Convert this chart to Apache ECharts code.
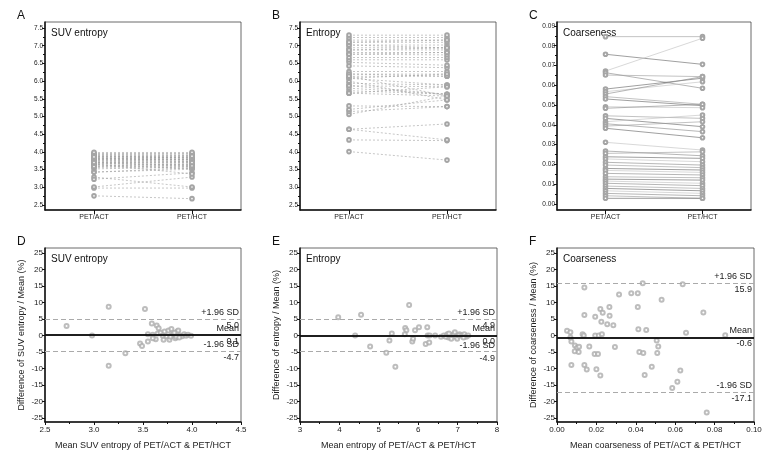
<!DOCTYPE html>
<html><head><meta charset="utf-8">
<script src="https://cdn.jsdelivr.net/npm/echarts@6/dist/echarts.min.js"></script>
<style>html,body{margin:0;padding:0;background:#fff}#c{width:768px;height:459px}</style>
</head><body><div id="c"></div>
<script>
// ---------- data ----------
const cats = ['PET/ACT', 'PET/HCT'];
const topTicks = [2.5, 3.0, 3.5, 4.0, 4.5, 5.0, 5.5, 6.0, 6.5, 7.0, 7.5];
const coaTicks = [0, 0.01, 0.02, 0.03, 0.04, 0.05, 0.06, 0.07, 0.08, 0.09];
const baTicks = [-25, -20, -15, -10, -5, 0, 5, 10, 15, 20, 25];

const suvACT = [2.76,2.98,3.29,3.01,3.23,3.66,3.43,3.43,3.52,3.65,3.56,3.60,3.61,3.69,3.70,3.66,3.69,3.69,3.74,3.74,3.79,3.75,3.83,3.79,3.82,3.81,3.87,3.89,3.88,3.90,3.93,3.94,3.96,3.99,3.77,3.84,3.83,3.59,3.70,3.86];
const suvHCT = [2.68,2.98,3.01,3.29,3.41,3.38,3.51,3.55,3.58,3.53,3.54,3.60,3.65,3.59,3.62,3.64,3.67,3.73,3.70,3.74,3.73,3.79,3.75,3.79,3.80,3.85,3.83,3.83,3.88,3.90,3.91,3.94,3.96,3.99,3.79,3.80,3.85,3.61,3.70,3.88];

const entACT = [4.01,4.34,4.64,4.64,5.06,5.14,5.20,5.30,5.66,5.73,5.80,5.87,5.94,6.00,6.08,6.14,6.20,6.27,6.43,6.53,6.60,6.67,6.76,6.81,6.88,6.94,7.02,7.10,7.16,7.23,7.30,6.76,6.88,7.02,7.10,6.20,6.08,5.66,5.87,6.14];
const entHCT = [3.77,4.32,4.79,4.34,5.58,5.28,5.47,5.28,5.58,5.63,5.63,5.84,5.89,5.47,5.89,6.14,6.20,6.27,6.38,6.45,6.60,6.67,6.74,6.81,6.88,6.94,7.02,7.10,7.16,7.23,7.30,6.81,6.94,6.94,7.16,6.14,6.20,5.84,5.63,5.58];

const coaACT = [0.0846,0.0757,0.0672,0.0664,0.0652,0.0581,0.0568,0.0556,0.0543,0.0531,0.0492,0.0484,0.0446,0.0433,0.0416,0.0406,0.0394,0.0383,0.0312,0.0268,0.0256,0.0239,0.0228,0.0211,0.0197,0.0180,0.0170,0.0155,0.0138,0.0126,0.0116,0.0105,0.0091,0.0079,0.0067,0.0054,0.0042,0.0029];
const coaHCT = [0.0846,0.0706,0.0838,0.0585,0.0644,0.0636,0.0618,0.0644,0.0504,0.0497,0.0487,0.0504,0.0433,0.0391,0.0450,0.0366,0.0416,0.0335,0.0273,0.0244,0.0264,0.0231,0.0214,0.0197,0.0184,0.0172,0.0160,0.0147,0.0133,0.0121,0.0105,0.0093,0.0079,0.0067,0.0054,0.0042,0.0029,0.0029];

const suvMean = [2.72,2.98,3.15,3.15,3.32,3.52,3.47,3.49,3.55,3.59,3.55,3.60,3.63,3.64,3.66,3.65,3.68,3.71,3.72,3.74,3.76,3.77,3.79,3.79,3.81,3.83,3.85,3.86,3.88,3.90,3.92,3.94,3.96,3.99,3.78,3.82,3.84,3.60,3.70,3.87];
const suvDiff = [2.9,0,8.7,-9.2,-5.4,8.0,-2.4,-3.2,-1.8,3.6,0.4,0.2,-1.1,3.0,2.2,0.6,0.8,-1.3,1.2,-0.2,1.5,-1.3,2.0,0,0.4,-0.8,1.2,1.5,0,-0.2,0.4,-0.1,0.2,-0.1,-0.4,0.8,-0.4,-0.8,0,-0.6];

const entMean = [3.97,4.55,4.40,4.78,5.19,5.33,5.27,5.42,5.77,5.67,5.70,5.66,5.85,5.87,5.92,6.02,6.23,6.24,6.19,6.28,6.29,6.43,6.58,6.65,6.74,6.77,6.80,6.84,6.88,6.91,6.93,6.96,6.99,7.05,7.10,7.17,7.22,7.27,6.78,7.03,7.15,6.70];
const entDiff = [5.5,6.3,0,-3.3,-5.2,0.6,-1.5,-9.5,9.2,2.3,1.6,0.4,-1.8,-1.0,1.6,2.5,2.5,0,-2.6,-2.1,0,0,-0.4,0,0.4,-0.6,0,-1.0,0.2,0.4,1.0,-0.4,-1.0,0.4,0,0.4,-0.4,0,0.6,0,-0.6,-0.4];

const coaMean = [0.0051,0.0068,0.0068,0.0073,0.0091,0.0102,0.0112,0.0090,0.0110,0.0073,0.0139,0.0139,0.0130,0.0136,0.0139,0.0151,0.0164,0.0194,0.0194,0.0191,0.0208,0.0200,0.0220,0.0232,0.0225,0.0212,0.0228,0.0220,0.0266,0.0267,0.0255,0.0286,0.0294,0.0315,0.0377,0.0410,0.0410,0.0413,0.0453,0.0418,0.0438,0.0435,0.0445,0.0481,0.0506,0.0514,0.0509,0.0531,0.0585,0.0611,0.0626,0.0638,0.0655,0.0743,0.0760,0.0854];
const coaDiff = [1.4,1.0,-0.6,-1.8,-3.0,-3.7,-3.4,-4.8,-5.0,-8.9,14.5,6.2,0.4,0,-8.9,-10.3,-3.3,5.7,0,-5.6,-5.6,-10.2,8.0,6.9,4.2,0,0.4,-12.1,8.6,6.0,3.4,3.1,-3.5,12.4,12.8,12.8,8.6,1.9,1.7,-5.0,-5.3,15.8,-12.0,-9.5,-1.5,-3.3,-5.3,10.8,-15.9,-14.0,-10.6,15.5,0.8,7.0,-23.3,0.1];

// limits: [+1.96 SD, mean, -1.96 SD]
const suvLimits = [5.0, 0.1, -4.7];
const entLimits = [4.9, 0.0, -4.9];
const coaLimits = [15.9, -0.6, -17.1];

const panelLetters = ['A', 'B', 'C', 'D', 'E', 'F'];
const panelTitles = ['SUV entropy', 'Entropy', 'Coarseness', 'SUV entropy', 'Entropy', 'Coarseness'];
const xTitles = ['Mean SUV entropy of PET/ACT & PET/HCT', 'Mean entropy of PET/ACT & PET/HCT', 'Mean coarseness of PET/ACT & PET/HCT'];
const yTitles = ['Difference of SUV entropy / Mean (%)', 'Difference of entropy / Mean (%)', 'Difference of coarseness / Mean (%)'];

// ---------- chart ----------
const NARROW = '"Liberation Sans Narrow", "Arial Narrow", "Liberation Sans", Arial, sans-serif';
const ARIAL = '"Liberation Sans", Arial, sans-serif';
const chart = echarts.init(document.getElementById('c'));

const gridBoxes = [
  {left: 45, top: 22, width: 196, height: 188},
  {left: 300, top: 22, width: 196, height: 188},
  {left: 557, top: 22, width: 194, height: 188},
  {left: 45, top: 248, width: 196, height: 174},
  {left: 300, top: 248, width: 197, height: 174},
  {left: 557, top: 248, width: 197, height: 174}
];
const grid = gridBoxes.map(g => Object.assign({show: true, borderColor: '#444', borderWidth: 0.8, containLabel: false, outerBoundsMode: 'none'}, g));

const axisLine = {show: true, onZero: false, lineStyle: {color: '#111', width: 1.5}};
const tickStyle = {color: '#111', width: 1};

function midpoints(arr) {
  const out = [];
  for (let i = 0; i < arr.length - 1; i++) out.push(+((arr[i] + arr[i + 1]) / 2).toFixed(4));
  return out;
}

const xAxis = [];
for (let p = 0; p < 3; p++) {
  xAxis.push({
    gridIndex: p, type: 'category', data: cats, boundaryGap: true,
    axisLine: axisLine,
    axisTick: {show: true, alignWithLabel: true, length: 4, lineStyle: tickStyle},
    axisLabel: {fontSize: 7, fontFamily: ARIAL, color: '#222', margin: 4},
    splitLine: {show: false}
  });
}
const baX = [
  {min: 2.5, max: 4.5, interval: 0.5, fmt: v => v.toFixed(1)},
  {min: 3, max: 8, interval: 1, fmt: v => String(Math.round(v))},
  {min: 0, max: 0.1, interval: 0.02, fmt: v => v.toFixed(2)}
];
baX.forEach((b, k) => {
  xAxis.push({
    gridIndex: 3 + k, type: 'value', min: b.min, max: b.max, interval: b.interval,
    axisLine: axisLine,
    axisTick: {show: true, length: 3, lineStyle: tickStyle},
    minorTick: {show: true, splitNumber: 2, length: 2, lineStyle: tickStyle},
    axisLabel: {fontSize: 8, fontFamily: ARIAL, color: '#222', margin: 4, formatter: b.fmt},
    splitLine: {show: false}, minorSplitLine: {show: false},
    name: xTitles[k], nameLocation: 'middle', nameGap: 19,
    nameTextStyle: {fontSize: 9, fontFamily: NARROW, color: '#222'}
  });
});

const yAxis = [];
const topRanges = [
  {min: 2.36, max: 7.67, ticks: topTicks, fmt: v => v.toFixed(1)},
  {min: 2.36, max: 7.67, ticks: topTicks, fmt: v => v.toFixed(1)},
  {min: -0.003, max: 0.092, ticks: coaTicks, fmt: v => v.toFixed(2)}
];
topRanges.forEach((r, p) => {
  yAxis.push({
    gridIndex: p, type: 'value', position: 'left', min: r.min, max: r.max,
    axisLine: axisLine,
    axisTick: {show: true, length: 3, lineStyle: tickStyle, customValues: r.ticks},
    axisLabel: {fontSize: 6.5, fontFamily: NARROW, color: '#222', margin: 2, customValues: r.ticks, formatter: r.fmt},
    splitLine: {show: false}
  });
});
for (let k = 0; k < 3; k++) {
  yAxis.push({
    gridIndex: 3 + k, type: 'value', position: 'left', min: -26.2, max: 26.5,
    axisLine: axisLine,
    axisTick: {show: true, length: 3, lineStyle: tickStyle, customValues: baTicks},
    axisLabel: {fontSize: 8, fontFamily: ARIAL, color: '#222', margin: 2, customValues: baTicks, formatter: v => String(Math.round(v))},
    splitLine: {show: false},
    name: yTitles[k], nameLocation: 'middle', nameGap: 19, nameRotate: 90,
    nameTextStyle: {fontSize: 9, fontFamily: NARROW, color: '#222'}
  });
}
// minor tick axes for the top panels
topRanges.forEach((r, p) => {
  yAxis.push({
    gridIndex: p, type: 'value', position: 'left', offset: 0, min: r.min, max: r.max,
    axisLine: {show: false, onZero: false},
    axisTick: {show: true, length: 2, lineStyle: tickStyle, customValues: midpoints(r.ticks)},
    axisLabel: {show: false},
    splitLine: {show: false}
  });
});

const series = [];
const pairSets = [[suvACT, suvHCT], [entACT, entHCT], [coaACT, coaHCT]];
const coaShades = ['#999999', '#606060', '#bdbdbd', '#858585'];
pairSets.forEach((ps, p) => {
  ps[0].forEach((a, i) => {
    const col = p === 2 ? coaShades[i % coaShades.length] : '#a0a0a0';
    series.push({
      type: 'line', xAxisIndex: p, yAxisIndex: p, data: [a, ps[1][i]],
      symbol: 'emptyCircle', symbolSize: 3.6, showAllSymbol: true,
      lineStyle: {type: p === 2 ? 'solid' : [2, 2], width: 0.6, color: col},
      itemStyle: {color: '#a5a5a5', borderWidth: 0.5},
      silent: true, animation: false
    });
  });
});

const baSets = [[suvMean, suvDiff, suvLimits], [entMean, entDiff, entLimits], [coaMean, coaDiff, coaLimits]];
const lblBase = {show: true, fontSize: 9, fontFamily: NARROW, color: '#222', distance: 2};
baSets.forEach((s, k) => {
  const lim = s[2];
  const dash = {type: [5, 3], color: '#aaa', width: 1};
  const solid = {type: 'solid', color: '#111', width: 1.6};
  series.push({
    type: 'scatter', xAxisIndex: 3 + k, yAxisIndex: 3 + k,
    data: s[0].map((m, i) => [m, s[1][i]]),
    symbol: 'emptyCircle', symbolSize: 4,
    itemStyle: {color: '#acacac', borderWidth: 0.6},
    silent: true, animation: false,
    markLine: {
      silent: true, symbol: 'none', animation: false,
      data: [
        {yAxis: lim[0], lineStyle: dash, label: Object.assign({}, lblBase, {position: 'insideEndTop', formatter: '+1.96 SD'})},
        {yAxis: lim[0], lineStyle: dash, label: Object.assign({}, lblBase, {position: 'insideEndBottom', formatter: lim[0].toFixed(1)})},
        {yAxis: lim[1], lineStyle: solid, label: Object.assign({}, lblBase, {position: 'insideEndTop', formatter: 'Mean'})},
        {yAxis: lim[1], lineStyle: solid, label: Object.assign({}, lblBase, {position: 'insideEndBottom', formatter: lim[1].toFixed(1)})},
        {yAxis: lim[2], lineStyle: dash, label: Object.assign({}, lblBase, {position: 'insideEndTop', formatter: '-1.96 SD'})},
        {yAxis: lim[2], lineStyle: dash, label: Object.assign({}, lblBase, {position: 'insideEndBottom', formatter: lim[2].toFixed(1)})}
      ]
    }
  });
});

const graphic = [];
gridBoxes.forEach((g, p) => {
  graphic.push({type: 'text', left: g.left - 28, top: g.top - 12, style: {text: panelLetters[p], font: '12px "Liberation Sans", Arial', fill: '#111'}});
  graphic.push({type: 'text', left: g.left + 6, top: g.top + 6, style: {text: panelTitles[p], font: '10px "Liberation Sans", Arial', fill: '#111'}});
});

chart.setOption({
  animation: false,
  backgroundColor: '#fff',
  grid: grid,
  xAxis: xAxis,
  yAxis: yAxis,
  series: series,
  graphic: graphic
});
</script>
</body></html>
